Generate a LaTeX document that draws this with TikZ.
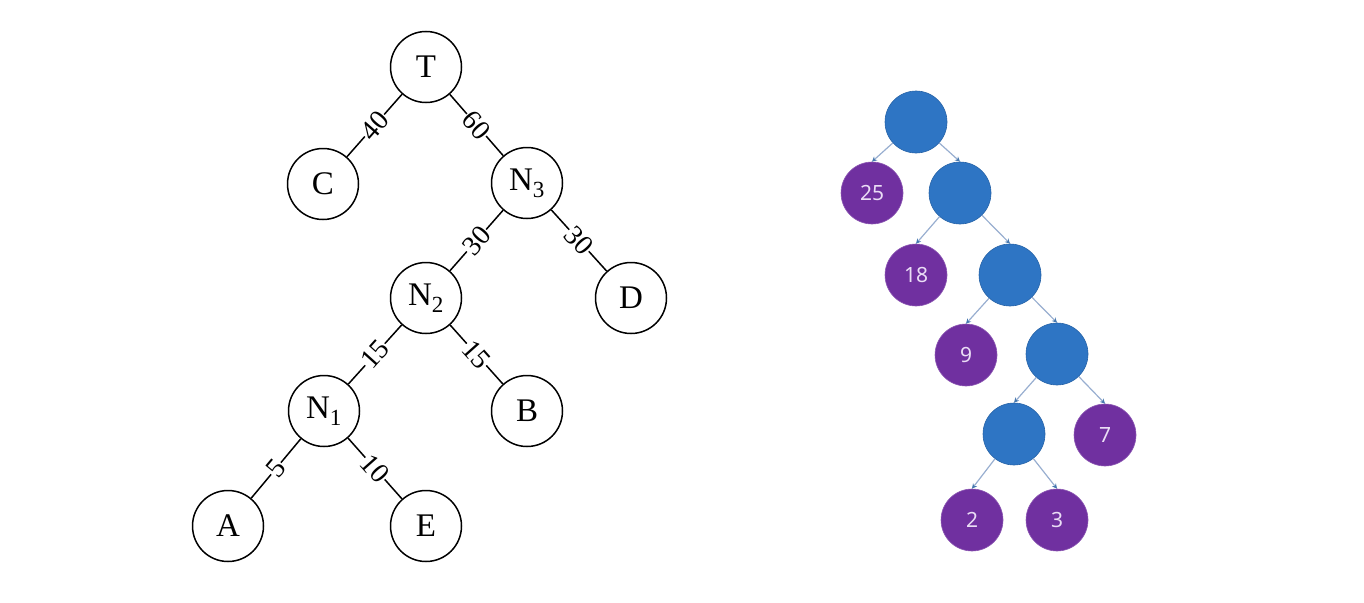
\documentclass[tikz,border=0pt]{standalone}
\usepackage{fontspec}
\setmainfont{Liberation Serif}
\newfontfamily\numfont{Noto Sans}
\usetikzlibrary{arrows.meta}
\definecolor{nodeblue}{HTML}{2E75C4}
\definecolor{nodepurple}{HTML}{7030A0}
\definecolor{edgegray}{HTML}{98AED0}
\definecolor{numtext}{HTML}{EADDF5}
\tikzset{
  hnode/.style={circle, draw=black, line width=1.5pt, minimum size=71pt, inner sep=0pt,
    font=\fontsize{33}{33}\selectfont},
  hedge/.style={line width=1.5pt, black},
  wlabel/.style={sloped, fill=white, inner sep=0.5pt, font=\fontsize{28}{28}\selectfont},
  inner/.style={circle, fill=nodeblue, draw=nodeblue!85!black, line width=0.6pt, minimum size=62pt, inner sep=0pt},
  leaf/.style={circle, fill=nodepurple, draw=nodepurple!80!white, line width=0.6pt, minimum size=62pt, inner sep=0pt,
    text=numtext, font=\numfont\fontsize{21}{21}\selectfont},
  arr/.style={edgegray, line width=1.2pt, -{Stealth[length=5pt,width=5pt,color=nodeblue!70!gray]}}
}
\begin{document}
\begin{tikzpicture}[x=1pt,y=-1pt]
\useasboundingbox (0,0) rectangle (1364,602);

% Huffman tree with edge weights
\node[hnode] (T)  at (426,67)  {T};
\node[hnode] (C)  at (323,184) {C};
\node[hnode] (N3) at (527,183) {N\textsubscript{3}};
\node[hnode] (N2) at (426,298) {N\textsubscript{2}};
\node[hnode] (D)  at (631,298) {D};
\node[hnode] (N1) at (324,411) {N\textsubscript{1}};
\node[hnode] (B)  at (527,411) {B};
\node[hnode] (A)  at (228,526) {A};
\node[hnode] (E)  at (426,526) {E};

\draw[hedge] (T)  -- node[wlabel] {40} (C);
\draw[hedge] (T)  -- node[wlabel] {60} (N3);
\draw[hedge] (N3) -- node[wlabel] {30} (N2);
\draw[hedge] (N3) -- node[wlabel] {30} (D);
\draw[hedge] (N2) -- node[wlabel] {15} (N1);
\draw[hedge] (N2) -- node[wlabel] {15} (B);
\draw[hedge] (N1) -- node[wlabel] {5}  (A);
\draw[hedge] (N1) -- node[wlabel] {10} (E);

% Tree with weighted leaves
\node[inner] (r)  at (916,122) {};
\node[leaf]  (l25) at (872,193) {25};
\node[inner] (i1) at (960,193) {};
\node[leaf]  (l18) at (916,275) {18};
\node[inner] (i2) at (1010,275) {};
\node[leaf]  (l9) at (966,355) {9};
\node[inner] (i3) at (1057,354) {};
\node[inner] (i4) at (1014,434) {};
\node[leaf]  (l7) at (1105,435) {7};
\node[leaf]  (l2) at (972,520) {2};
\node[leaf]  (l3) at (1057,520) {3};

\draw[arr] (r)  -- (l25.north);
\draw[arr] (r)  -- (i1.north);
\draw[arr] (i1) -- (l18.north);
\draw[arr] (i1) -- (i2.north);
\draw[arr] (i2) -- (l9.north);
\draw[arr] (i2) -- (i3.north);
\draw[arr] (i3) -- (i4.north);
\draw[arr] (i3) -- (l7.north);
\draw[arr] (i4) -- (l2.north);
\draw[arr] (i4) -- (l3.north);
\end{tikzpicture}
\end{document}
